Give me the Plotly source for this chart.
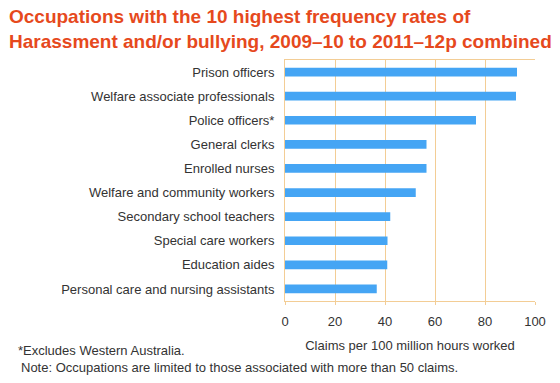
import plotly.graph_objects as go

occupations = [
    "Prison officers",
    "Welfare associate professionals",
    "Police officers*",
    "General clerks",
    "Enrolled nurses",
    "Welfare and community workers",
    "Secondary school teachers",
    "Special care workers",
    "Education aides",
    "Personal care and nursing assistants",
]
rates = [92.8, 92.4, 76.4, 56.6, 56.6, 52.3, 42.1, 41.0, 40.9, 36.7]
x_ticks = [0, 20, 40, 60, 80, 100]

BAR = "#45a5f4"
GRID = "#f3cd95"
TXT = "#333333"
FONT = "Liberation Sans, Arial, sans-serif"

W, H = 560, 383
ML, MR, MT, MB = 285, 25, 60, 82

fig = go.Figure(go.Bar(
    x=rates, y=occupations, orientation="h",
    marker=dict(color=BAR, line=dict(width=0)),
    width=0.36,
))

pw = W - ML - MR
ph = H - MT - MB
def px(x): return (x - ML) / pw
def py(y): return (H - MB - y) / ph

fig.update_layout(
    width=W, height=H,
    margin=dict(l=ML, r=MR, t=MT, b=MB, autoexpand=False),
    paper_bgcolor="white", plot_bgcolor="white",
    font=dict(family=FONT, size=13, color=TXT),
    showlegend=False,
    xaxis=dict(
        range=[0, 100], tickvals=x_ticks, showgrid=True, gridcolor=GRID, gridwidth=1,
        showline=True, linecolor=GRID, linewidth=1, mirror=True,
        ticks="outside", ticklen=3, tickcolor=GRID, zeroline=False,
        tickfont=dict(size=13, color=TXT), automargin=False, ticklabelstandoff=5,
        title=dict(text="Claims per 100 million hours worked", font=dict(size=13, color=TXT), standoff=13),
    ),
    yaxis=dict(
        range=[9.5, -0.5], autorange=False, showgrid=False, ticks="",
        showline=True, linecolor=GRID, linewidth=1, automargin=False,
        tickfont=dict(size=13, color=TXT), ticklabelstandoff=7,
    ),
    annotations=[
        dict(text="<b>Occupations with the 10 highest frequency rates of<br>Harassment and/or bullying, 2009–10 to 2011–12p combined</b>",
             x=px(7), y=py(4), xref="paper", yref="paper", showarrow=False, align="left",
             xanchor="left", yanchor="top",
             font=dict(family=FONT, size=19, color="#e6491d")),
        dict(text="*Excludes Western Australia.", x=px(16), y=py(350), xref="paper", yref="paper",
             showarrow=False, xanchor="left", yanchor="middle",
             font=dict(size=13, color=TXT)),
        dict(text="Note: Occupations are limited to those associated with more than 50 claims.",
             x=px(19), y=py(367), xref="paper", yref="paper", showarrow=False,
             xanchor="left", yanchor="middle",
             font=dict(size=13, color=TXT)),
    ],
)

fig.write_html("out.html", config={"displayModeBar": False},
               post_script="document.body.style.margin='0';document.body.style.padding='0';")
